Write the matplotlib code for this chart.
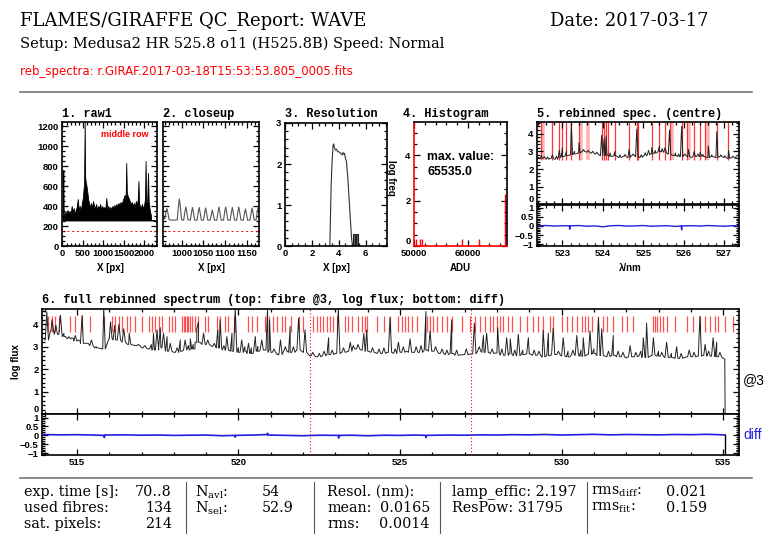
import numpy as np
import matplotlib
matplotlib.use('Agg')
import matplotlib.pyplot as plt
from matplotlib.lines import Line2D
from matplotlib.ticker import MultipleLocator

# ---------------- data ----------------
# 1. raw1 : middle row of the raw frame (x [px], counts)
raw1_pts = [(0, 300), (10, 320), (20, 760), (30, 330), (50, 300), (75, 350), (100, 320),
            (125, 360), (150, 330), (175, 350), (200, 320), (225, 400), (250, 340), (275, 380),
            (300, 320), (325, 360), (350, 390), (375, 470), (400, 360), (425, 400), (450, 340),
            (475, 430), (500, 480), (515, 560), (530, 620), (545, 1240), (555, 700), (570, 640),
            (590, 600), (610, 540), (630, 470), (655, 420), (680, 390), (700, 430), (725, 380),
            (750, 450), (775, 400), (800, 380), (825, 420), (850, 360), (875, 400), (900, 380),
            (925, 420), (950, 360), (975, 400), (1000, 370), (1025, 390), (1050, 360),
            (1075, 480), (1100, 380), (1125, 400), (1150, 360), (1175, 390), (1200, 370),
            (1225, 400), (1250, 380), (1275, 410), (1300, 390), (1325, 420), (1350, 400),
            (1375, 430), (1400, 410), (1425, 440), (1450, 420), (1475, 450), (1500, 480),
            (1525, 510), (1550, 470), (1565, 830), (1580, 540), (1600, 500), (1625, 480),
            (1650, 450), (1675, 420), (1700, 440), (1725, 400), (1750, 430), (1775, 390),
            (1800, 450), (1825, 400), (1850, 480), (1865, 650), (1880, 430), (1900, 400),
            (1925, 380), (1950, 420), (1975, 380), (2000, 400), (2025, 470), (2040, 850),
            (2055, 440), (2075, 400), (2100, 730), (2115, 450), (2135, 380), (2150, 340),
            (2165, 320), (2175, 260), (2290, 252)]
raw1_base = 255
raw1_level = 150

# 2. closeup of the same row
closeup_pts = [(956, 300), (960, 270), (963, 340), (965, 375), (967, 340), (970, 265), (975, 258),
               (989, 260), (992, 400), (994, 470), (996, 405), (999, 265), (1004, 258),
               (1007, 345), (1009, 390), (1011, 345), (1014, 262), (1019.5, 258),
               (1022.5, 340), (1024.5, 385), (1026.5, 340), (1029.5, 260), (1035, 258),
               (1038, 340), (1040, 385), (1042, 340), (1045, 260), (1050, 258),
               (1053, 335), (1055, 380), (1057, 335), (1060, 260), (1065.5, 258),
               (1068.5, 320), (1070.5, 360), (1072.5, 320), (1075.5, 258), (1081, 258),
               (1084, 345), (1086, 390), (1088, 345), (1091, 260), (1096.5, 258),
               (1099.5, 345), (1101.5, 390), (1103.5, 345), (1106.5, 260), (1112, 258),
               (1115, 340), (1117, 385), (1119, 340), (1122, 260), (1127, 258),
               (1130, 345), (1132, 390), (1134, 345), (1137, 260), (1142.5, 258),
               (1145.5, 330), (1147.5, 370), (1149.5, 330), (1152.5, 258), (1158, 258),
               (1161, 335), (1163, 380), (1165, 335), (1168, 260), (1172, 258),
               (1175, 340), (1177, 385), (1179, 340)]

# 3. resolution distribution
res_x = [3.34, 3.40, 3.44, 3.50, 3.58, 3.63, 3.68, 3.76, 3.85, 3.92, 4.00, 4.07, 4.13,
         4.20, 4.26, 4.32, 4.38, 4.43, 4.50, 4.58, 4.68, 4.76, 4.83, 4.90, 4.95, 5.03]
res_y = [0.00, 0.90, 1.50, 2.00, 2.46, 2.49, 2.40, 2.34, 2.36, 2.30, 2.30, 2.28, 2.27,
         2.24, 2.22, 2.28, 2.24, 2.26, 2.15, 2.06, 1.66, 1.25, 0.86, 0.50, 0.22, 0.00]
res_bar_left = [5.03, 5.28]
res_bar_height = [0.29, 0.29]
res_bar_width = 0.15

# 4. histogram of ADU (log freq)
hist_adu = [50315, 51111, 51540, 58950, 62037, 66850]
hist_logfreq = [0.3, 0.3, 0.3, 0.3, 0.3, 2.3]
hist_max = '65535.0'

# 5. rebinned spectrum (centre fibre)
centre_grid = np.arange(522.4, 527.35, 0.1)
centre_cont = [2.65, 2.60, 2.55, 2.60, 2.55, 2.65, 2.70, 2.75, 2.80, 2.85,
               2.90, 3.00, 2.95, 2.90, 2.85, 2.80, 2.75, 2.80, 2.70, 2.75,
               2.65, 2.70, 2.65, 2.75, 2.70, 2.65, 2.75, 2.80, 2.85, 2.90,
               3.00, 2.95, 2.85, 2.80, 2.75, 2.70, 2.75, 2.70, 2.65, 2.70,
               2.75, 2.70, 2.65, 2.70, 2.65, 2.70, 2.65, 2.60, 2.65, 2.60]
centre_peak_wl = [522.48, 522.55, 522.63, 522.75, 522.85, 522.92, 523.00, 523.10, 523.22,
                  523.30, 523.41, 523.52, 523.64, 523.75, 523.85, 523.97, 524.03, 524.08,
                  524.18, 524.30, 524.42, 524.55, 524.65, 524.75, 524.84, 524.95, 525.05,
                  525.13, 525.21, 525.30, 525.40, 525.47, 525.54, 525.65, 525.80, 525.88,
                  525.95, 526.03, 526.12, 526.26, 526.35, 526.41, 526.48, 526.61, 526.70,
                  526.82, 526.92, 527.02, 527.11, 527.22, 527.30]
centre_peak_flux = [2.75, 2.70, 2.68, 2.80, 2.72, 3.05, 3.20, 3.00, 4.55,
                    3.00, 3.50, 3.10, 3.05, 3.00, 2.95, 3.90, 3.70, 3.85,
                    2.90, 3.00, 2.80, 2.82, 3.10, 2.85, 4.25, 2.80, 2.92,
                    3.05, 3.20, 3.05, 3.30, 3.15, 3.20, 4.20, 2.90, 2.85,
                    4.40, 2.85, 3.10, 3.00, 2.85, 2.95, 2.82, 3.30, 2.80,
                    4.10, 2.80, 2.75, 3.05, 2.72, 2.70]
centre_lines = [522.48, 522.75, 522.92, 523.00, 523.10, 523.22, 523.41, 523.97, 524.03,
                524.08, 524.13, 524.30, 524.65, 524.84, 524.88, 525.21, 525.40, 525.54,
                525.65, 525.95, 526.08, 526.26, 526.41, 526.53, 526.82, 527.11]
centre_lines_faint = [522.53, 523.47, 523.64, 525.71, 526.12, 526.61]
centre_diff_wl = [522.37, 522.6, 522.8, 523.0, 523.17, 523.18, 523.19, 523.4, 523.6, 523.8,
                  524.0, 524.2, 524.4, 524.6, 524.8, 525.0, 525.2, 525.4, 525.6, 525.8,
                  525.94, 525.95, 525.96, 526.2, 526.4, 526.6, 526.8, 527.0, 527.2, 527.37]
centre_diff = [0.0, 0.02, -0.01, 0.01, 0.0, -0.18, 0.0, 0.02, -0.02, 0.0,
               -0.05, 0.01, 0.02, -0.01, 0.0, 0.02, -0.02, 0.0, 0.01, -0.03,
               0.0, -0.22, 0.0, 0.01, -0.01, 0.02, 0.0, -0.02, 0.01, 0.0]

# 6. full rebinned spectrum, fibre @3
full_grid = np.arange(514.0, 535.01, 0.2)
full_cont = [3.30, 3.70, 3.55, 3.45, 3.35,
             3.25, 3.15, 3.05, 2.95, 2.90,
             3.35, 3.30, 3.20, 3.10, 3.05,
             2.95, 2.90, 2.85, 2.95, 2.80,
             2.75, 2.80, 2.85, 2.90, 3.20,
             3.10, 3.00, 2.95, 2.85, 2.80,
             2.75, 2.80, 2.70, 2.80, 2.85,
             2.75, 2.65, 2.80, 2.75, 2.85,
             2.75, 2.60, 2.55, 2.60, 2.65,
             2.70, 2.75, 2.80, 2.90, 2.85,
             2.80, 2.75, 2.70, 2.75, 2.70,
             2.75, 2.80, 2.75, 2.75, 2.85,
             2.80, 2.70, 2.65, 2.70, 2.62,
             2.65, 2.68, 2.80, 2.75, 2.70,
             2.72, 2.62, 2.68, 2.60, 2.65,
             2.68, 2.62, 2.55, 2.60, 2.65,
             2.58, 2.55, 2.62, 2.58, 2.66,
             2.70, 2.60, 2.56, 2.62, 2.55,
             2.50, 2.55, 2.60, 2.52, 2.62,
             2.58, 2.52, 2.52, 2.48, 2.52,
             2.55, 2.58, 2.62, 2.58, 2.55,
             2.48]
full_tail_wl = [535.05, 535.06]
full_tail_flux = [2.45, 0.0]
full_peak_wl = [514.07, 514.23, 514.35, 514.49, 514.75, 514.95, 515.16, 515.45, 515.83,
                516.04, 516.17, 516.30, 516.45, 516.62, 517.37, 517.48, 517.58, 517.68,
                517.79, 517.89, 518.20, 518.35, 518.51, 518.71, 518.76, 518.92, 519.36,
                519.43, 519.64, 519.80, 519.90, 520.10, 520.31, 520.52, 520.72, 520.90,
                520.96, 521.30, 521.60, 521.86, 522.06, 522.79, 523.09, 523.46, 523.88,
                523.97, 524.69, 524.95, 525.31, 525.80, 525.93, 526.60, 527.30, 527.58,
                527.68, 528.02, 528.30, 528.41, 528.66, 528.97, 529.43, 529.59, 529.74,
                530.05, 530.47, 530.67, 530.88, 531.14, 531.24, 531.60, 532.12, 532.53,
                532.63, 532.84, 533.25, 533.56, 534.28, 534.44, 534.69, 534.80]
full_peak_flux = [4.55, 4.20, 3.95, 4.40, 3.45, 3.50, 4.40, 3.30, 4.70,
                  4.10, 3.95, 4.00, 3.80, 3.60, 3.60, 3.75, 3.85, 3.60,
                  3.45, 3.15, 3.30, 3.30, 3.35, 3.80, 4.10, 3.60, 3.75,
                  4.20, 3.45, 3.60, 4.70, 3.30, 3.15, 3.45, 3.30, 4.70,
                  4.20, 3.30, 3.90, 4.27, 3.75, 3.40, 4.70, 3.20, 3.60,
                  3.75, 4.30, 3.20, 3.35, 4.57, 3.70, 4.20, 4.05, 3.50,
                  3.60, 3.85, 3.40, 3.35, 3.55, 3.40, 3.74, 3.60, 3.83,
                  3.40, 3.50, 3.40, 3.70, 4.28, 3.80, 3.50, 3.05, 3.40,
                  4.05, 3.40, 3.20, 3.00, 4.35, 3.10, 3.40, 3.20]
full_bump_wl = [514.60, 514.85, 515.05, 515.30, 515.60, 516.90, 517.10, 517.30, 518.10,
                518.45, 518.60, 519.05, 519.25, 519.55, 520.00, 520.20, 520.40, 520.60,
                521.10, 521.45, 521.70, 522.30, 522.50, 522.65, 522.90, 523.25, 523.55,
                523.70, 524.15, 524.35, 524.50, 524.85, 525.10, 525.50, 525.65, 526.10,
                526.30, 526.45, 526.75, 527.05, 527.45, 527.85, 528.15, 528.55, 528.80,
                529.15, 529.30, 529.90, 530.20, 530.35, 530.60, 531.00, 531.45, 531.75,
                531.90, 532.30, 532.45, 533.00, 533.10, 533.40, 533.70, 533.95, 534.10,
                534.55, 534.90]
full_bump_flux = [3.60, 3.40, 3.30, 3.15, 3.00, 3.10, 3.05, 3.10, 2.95,
                  3.05, 3.10, 3.30, 3.15, 3.05, 2.95, 3.00, 2.95, 3.00,
                  2.90, 3.00, 3.00, 2.75, 2.70, 2.80, 2.85, 2.95, 3.05,
                  3.10, 2.95, 2.90, 2.95, 2.90, 3.00, 3.00, 3.05, 3.00,
                  2.90, 2.85, 2.85, 2.90, 3.00, 2.90, 2.90, 2.85, 2.85,
                  2.85, 2.80, 2.80, 2.80, 2.85, 2.85, 2.90, 2.80, 2.80,
                  2.75, 2.75, 2.80, 2.80, 2.75, 2.70, 2.70, 2.85, 2.75,
                  2.80, 2.75]
full_lines = [514.12, 514.23, 514.33, 514.46, 514.80, 514.95, 515.16, 515.41, 515.83, 516.08,
              516.19, 516.29, 516.39, 516.55, 516.65, 516.81, 517.01, 517.22, 517.32, 517.42,
              517.53, 517.63, 517.84, 517.94, 518.04, 518.25, 518.30, 518.35, 518.40, 518.45,
              518.51, 518.56, 518.66, 518.76, 518.97, 519.07, 519.33, 519.43, 519.59, 519.69,
              519.85, 519.90, 520.31, 520.42, 520.57, 520.83, 520.93, 521.08, 521.19, 521.34,
              521.45, 521.62, 521.86, 522.01, 522.32, 522.43, 522.53, 522.63, 522.74, 522.84,
              522.94, 523.04, 523.30, 523.40, 523.51, 523.71, 523.82, 523.92, 523.97, 524.28,
              524.49, 524.69, 524.95, 525.06, 525.16, 525.26, 525.36, 525.52, 525.83, 525.93,
              526.03, 526.14, 526.29, 526.45, 526.60, 526.91, 527.17, 527.32, 527.48, 527.63,
              527.79, 527.89, 527.99, 528.10, 528.20, 528.35, 528.46, 528.72, 528.92, 529.13,
              529.28, 529.43, 529.64, 529.74, 530.00, 530.16, 530.31, 530.47, 530.62, 530.73,
              530.83, 530.93, 531.14, 531.29, 531.40, 531.60, 531.86, 532.01, 532.22, 532.84,
              532.89, 532.94, 533.04, 533.15, 533.25, 533.51, 533.87, 534.08, 534.28, 534.44,
              534.59, 534.74, 534.85, 535.05, 535.31]
full_diff_wl = [513.92, 514.5, 515.0, 515.5, 515.84, 515.85, 515.86, 516.5, 517.0, 517.5,
                518.0, 518.5, 519.0, 519.5, 519.89, 519.9, 519.91, 520.5, 520.89, 520.9,
                520.91, 521.5, 522.0, 522.5, 523.09, 523.1, 523.11, 523.5, 524.0, 524.5,
                525.0, 525.5, 525.79, 525.8, 525.81, 526.5, 527.0, 527.5, 528.0, 528.5,
                529.0, 529.5, 530.0, 530.5, 531.0, 531.5, 532.0, 532.5, 533.0, 533.5,
                534.0, 534.5, 535.0, 535.05, 535.05]
full_diff = [0.05, 0.03, 0.04, 0.02, 0.0, -0.12, 0.02, 0.03, 0.01, 0.02,
             0.0, 0.01, 0.02, -0.02, 0.0, -0.1, 0.0, 0.02, 0.05, 0.12,
             0.02, 0.0, -0.02, 0.01, 0.0, -0.15, 0.0, 0.01, -0.02, 0.01,
             0.0, 0.02, 0.0, -0.12, 0.0, 0.02, 0.01, 0.03, 0.02, 0.04,
             0.03, 0.05, 0.02, 0.04, 0.06, 0.03, 0.05, 0.04, 0.03, 0.05,
             0.04, 0.06, 0.03, 0.03, -1.1]
centre_window = [522.22, 527.19]

# footer table
footer_rows = [
    [('exp. time [s]:', 24, 'left'), ('70..8', 172, 'right'),
     (r'N$_{avl}$:', 195, 'left'), ('54', 262, 'left'),
     ('Resol. (nm):', 327, 'left'),
     ('lamp_effic: 2.197', 452, 'left'),
     (r'rms$_{diff}$:', 591, 'left'), ('0.021', 666, 'left')],
    [('used fibres:', 24, 'left'), ('134', 172, 'right'),
     (r'N$_{sel}$:', 195, 'left'), ('52.9', 262, 'left'),
     ('mean:', 327, 'left'), ('0.0165', 430, 'right'),
     ('ResPow: 31795', 452, 'left'),
     (r'rms$_{fit}$:', 591, 'left'), ('0.159', 666, 'left')],
    [('sat. pixels:', 24, 'left'), ('214', 172, 'right'),
     ('rms:', 327, 'left'), ('0.0014', 430, 'right')],
]
footer_y = [492, 508, 524]
footer_seps = [186, 314, 440, 587]

# ---------------- drawing ----------------
plt.rcParams['font.family'] = ['Liberation Sans', 'DejaVu Sans']
plt.rcParams['font.weight'] = 'bold'
plt.rcParams['mathtext.default'] = 'regular'

W, H = 782.0, 542.0
fig = plt.figure(figsize=(W / 100, H / 100), dpi=100)


def box(l, r, t, b):
    return [l / W, 1 - b / H, (r - l) / W, (b - t) / H]


def ftext(x, y, s, **kw):
    kw.setdefault('va', 'center')
    return fig.text(x / W, 1 - y / H, s, **kw)


def hline(x0, x1, y, **kw):
    fig.add_artist(Line2D([x0 / W, x1 / W], [1 - y / H, 1 - y / H], **kw))


def vline(x, y0, y1, **kw):
    fig.add_artist(Line2D([x / W, x / W], [1 - y0 / H, 1 - y1 / H], **kw))


def style(ax, xmaj, xmin, ymaj, ymin):
    ax.xaxis.set_major_locator(MultipleLocator(xmaj))
    ax.xaxis.set_minor_locator(MultipleLocator(xmin))
    ax.yaxis.set_major_locator(MultipleLocator(ymaj))
    ax.yaxis.set_minor_locator(MultipleLocator(ymin))
    ax.tick_params(which='both', direction='in', top=True, right=True,
                   labelsize=6.8, width=0.9, pad=2.5, colors='black')
    ax.tick_params(which='major', length=4)
    ax.tick_params(which='minor', length=2)
    for sp in ax.spines.values():
        sp.set_linewidth(1.2)


def spectrum(grid, cont, pk_wl, pk_fl, half):
    # continuum samples plus narrow emission peaks standing on the nearest sample
    grid = np.asarray(grid)
    cont = np.asarray(cont)
    pk_wl = np.asarray(pk_wl)
    step = grid[1] - grid[0]
    idx = np.clip(np.rint((pk_wl - grid[0]) / step).astype(int), 0, len(grid) - 1)
    foot = cont[idx]
    xs = np.concatenate([grid, pk_wl - half, pk_wl, pk_wl + half])
    ys = np.concatenate([cont, foot, pk_fl, foot])
    o = np.argsort(xs, kind='stable')
    return xs[o], ys[o]


mono = dict(family='Liberation Mono', fontsize=8.6, weight='bold')
serif = dict(family='DejaVu Serif', weight='normal')
minus_labels = ['\u22121', '\u22120.5', '0', '0.5', '1']

# header
ftext(20, 21, 'FLAMES/GIRAFFE QC_Report: WAVE', fontsize=13, **serif)
ftext(550, 21, 'Date: 2017-03-17', fontsize=13, **serif)
ftext(20, 44, 'Setup: Medusa2 HR 525.8 o11 (H525.8B) Speed: Normal', fontsize=10.5, **serif)
ftext(20, 72, 'reb_spectra: r.GIRAF.2017-03-18T15:53:53.805_0005.fits', color='red',
      fontsize=8.5, family='DejaVu Sans', weight='normal')
hline(20, 752, 92, color='#777777', lw=1.2)

# panel 1
ax1 = fig.add_axes(box(62, 157, 122, 246))
rx, ry = zip(*raw1_pts)
ax1.fill_between(rx, raw1_base, ry, color='black', lw=0.6)
ax1.axhline(raw1_level, color='red', lw=0.7, ls=(0, (2, 3)))
ax1.set_xlim(-12, 2320)
ax1.set_ylim(0, 1240)
style(ax1, 500, 100, 200, 50)
ax1.text(0.41, 0.9, 'middle row', color='red', fontsize=6.5, transform=ax1.transAxes,
         va='center')
ftext(62, 114, '1. raw1', **mono)
ftext(110, 268, 'X [px]', fontsize=7, ha='center')

# panel 2
ax2 = fig.add_axes(box(163, 259, 122, 246))
cx, cy = zip(*closeup_pts)
ax2.plot(cx, cy, color='#555555', lw=0.8)
ax2.axhline(raw1_level, color='red', lw=0.7, ls=(0, (2, 3)))
ax2.set_xlim(956, 1179)
ax2.set_ylim(0, 1240)
style(ax2, 50, 10, 200, 50)
ax2.tick_params(labelleft=False)
ftext(163, 114, '2. closeup', **mono)
ftext(211, 268, 'X [px]', fontsize=7, ha='center')

# panel 3
ax3 = fig.add_axes(box(285, 387, 123, 246))
ax3.plot(res_x, res_y, color='#333333', lw=0.8)
ax3.bar(res_bar_left, res_bar_height, width=res_bar_width, align='edge',
        facecolor='#666666', edgecolor='#222222', lw=0.8)
ax3.set_xlim(0, 7.6)
ax3.set_ylim(0, 3)
style(ax3, 2, 0.5, 1, 0.2)
ftext(285, 114, '3. Resolution', **mono)
ftext(336, 268, 'X [px]', fontsize=7, ha='center')

# panel 4
ax4 = fig.add_axes(box(414, 507, 122, 246))
ax4.vlines(hist_adu, 0, hist_logfreq, color='red', lw=1.0)
ax4.set_xlim(50000, 67280)
ax4.set_ylim(0, 5.47)
style(ax4, 10000, 2000, 2, 0.5)
ax4.set_yticks([0, 2, 4])
ax4.yaxis.get_major_ticks()[0].label1.set_verticalalignment('bottom')
ax4.spines['left'].set_color('red')
ax4.spines['bottom'].set_color('red')
ax4.text(0.14, 0.72, 'max. value:', fontsize=8.8, transform=ax4.transAxes, va='center')
ax4.text(0.14, 0.60, hist_max, fontsize=8.8, transform=ax4.transAxes, va='center')
ftext(403, 114, '4. Histogram', **mono)
ftext(460, 268, 'ADU', fontsize=7, ha='center')
ftext(391, 178, 'log freq', fontsize=7, ha='center', rotation=-90)

# panel 5
ax5 = fig.add_axes(box(537, 739, 122, 204.5))
ax5d = fig.add_axes(box(537, 739, 204.5, 246))
wl5, fl5 = spectrum(centre_grid, centre_cont, centre_peak_wl, centre_peak_flux, 0.03)
ax5.vlines(centre_lines_faint, 2.5, 4.65, color='#ffb3b3', lw=2.6, zorder=1)
ax5.vlines(centre_lines, 2.5, 4.65, color='#ff3333', lw=0.9, zorder=1)
ax5.plot(wl5, fl5, color='#222222', lw=0.7, zorder=2)
ax5.set_xlim(522.37, 527.37)
ax5.set_ylim(0, 4.65)
style(ax5, 1, 0.2, 1, 0.2)
ax5.set_yticks([0, 1, 2, 3, 4])
ax5.tick_params(labelbottom=False)
ax5.yaxis.get_major_ticks()[0].label1.set_verticalalignment('bottom')
ax5d.plot(centre_diff_wl, centre_diff, color='#1f1fdd', lw=1.0)
ax5d.set_xlim(522.37, 527.37)
ax5d.set_ylim(-1.1, 1.17)
style(ax5d, 1, 0.2, 0.5, 0.1)
ax5d.set_yticks([-1, -0.5, 0, 0.5, 1], minus_labels)
ftext(537, 114, '5. rebinned spec. (centre)', **mono)
ftext(630, 268, '\u03bb/nm', fontsize=7, ha='center')

# panel 6
ax6 = fig.add_axes(box(42, 739, 309, 414))
ax6d = fig.add_axes(box(42, 739, 414, 455))
wl6, fl6 = spectrum(full_grid, full_cont,
                    np.concatenate([full_peak_wl, full_bump_wl]),
                    np.concatenate([full_peak_flux, full_bump_flux]), 0.05)
wl6 = np.concatenate([wl6, full_tail_wl])
fl6 = np.concatenate([fl6, full_tail_flux])
ax6.vlines(full_lines, 3.65, 4.375, color='#ff5050', lw=0.9, zorder=1)
ax6.plot(wl6, fl6, color='#222222', lw=0.7, zorder=2)
for ax in (ax6, ax6d):
    for w in centre_window:
        ax.axvline(w, color='red', lw=0.8, ls=(0, (1, 2)), zorder=3)
ax6.set_xlim(513.92, 535.49)
ax6.set_ylim(0, 4.68)
style(ax6, 5, 1, 1, 0.2)
ax6.set_yticks([0, 1, 2, 3, 4])
ax6.tick_params(labelbottom=False)
ax6.yaxis.get_major_ticks()[0].label1.set_verticalalignment('bottom')
ax6d.plot(full_diff_wl[:-1], full_diff[:-1], color='#1f1fdd', lw=1.2)
ax6d.plot(full_diff_wl[-2:], full_diff[-2:], color='black', lw=1.0)
ax6d.set_xlim(513.92, 535.49)
ax6d.set_ylim(-1.1, 1.2)
style(ax6d, 5, 1, 0.5, 0.1)
ax6d.set_yticks([-1, -0.5, 0, 0.5, 1], minus_labels)
ftext(42, 300, '6. full rebinned spectrum (top: fibre @3, log flux; bottom: diff)', **mono)
ftext(16, 362, 'log flux', fontsize=7, ha='center', rotation=90)
ftext(743, 380, '@3', fontsize=10, weight='normal')
ftext(743, 435, 'diff', fontsize=10, weight='normal', color='#1f1fdd')

# footer
hline(20, 752, 478, color='#777777', lw=1.2)
for x in footer_seps:
    vline(x, 482, 533, color='#555555', lw=0.8)
for row, y in zip(footer_rows, footer_y):
    for s, x, ha in row:
        ftext(x, y, s, ha=ha, fontsize=10.3, **serif)

fig.savefig('out.png', dpi=100)
